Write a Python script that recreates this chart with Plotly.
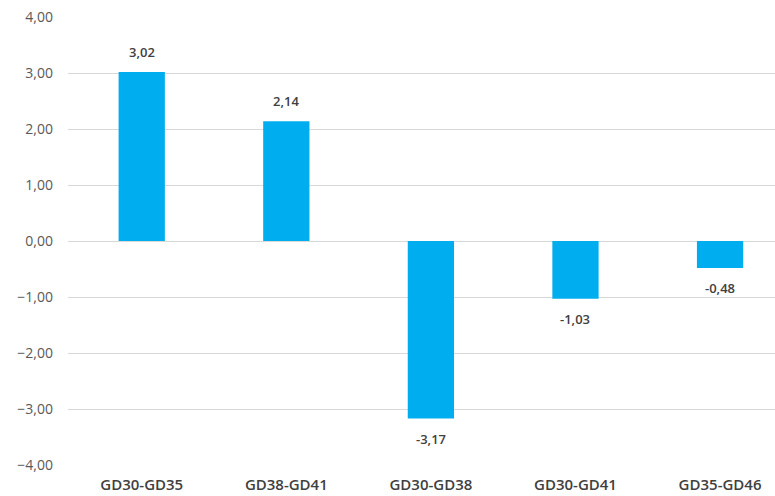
import plotly.graph_objects as go

categories = ["GD30-GD35", "GD38-GD41", "GD30-GD38", "GD30-GD41", "GD35-GD46"]
values = [3.02, 2.14, -3.17, -1.03, -0.48]
y_ticks = [-4, -3, -2, -1, 0, 1, 2, 3, 4]

fig = go.Figure()
fig.add_trace(go.Bar(
    x=categories, y=values,
    marker=dict(color="#00AEEF", line=dict(width=0)),
    cliponaxis=False,
))
for c, v in zip(categories, values):
    fig.add_annotation(
        x=c, y=v, text=f"{v:.2f}".replace(".", ","),
        showarrow=False,
        yanchor="bottom" if v >= 0 else "top",
        yshift=9 if v >= 0 else -9,
        font=dict(family="Open Sans", size=13, color="#404040", weight=600),
    )
fig.update_layout(
    width=775, height=496,
    margin=dict(l=68, r=0, t=17, b=31),
    paper_bgcolor="white", plot_bgcolor="white",
    separators=",.",
    bargap=0.68,
    showlegend=False,
    font=dict(family="Open Sans"),
)
fig.update_xaxes(
    range=[-0.51, 4.38], automargin=False,
    showgrid=False, showline=False, ticks="",
    tickfont=dict(family="Open Sans", size=15, color="#404040", weight=600),
    ticklabelstandoff=9,
)
fig.update_yaxes(
    range=[-4, 4], tickvals=y_ticks, tickformat=".2f", automargin=False,
    showgrid=True, gridcolor="#D9D9D9", gridwidth=1,
    zeroline=True, zerolinecolor="#D9D9D9", zerolinewidth=1,
    showline=False, ticks="",
    tickfont=dict(family="Open Sans", size=14, color="#595959"),
    ticklabelstandoff=14,
)
fig.write_html("out.html")
